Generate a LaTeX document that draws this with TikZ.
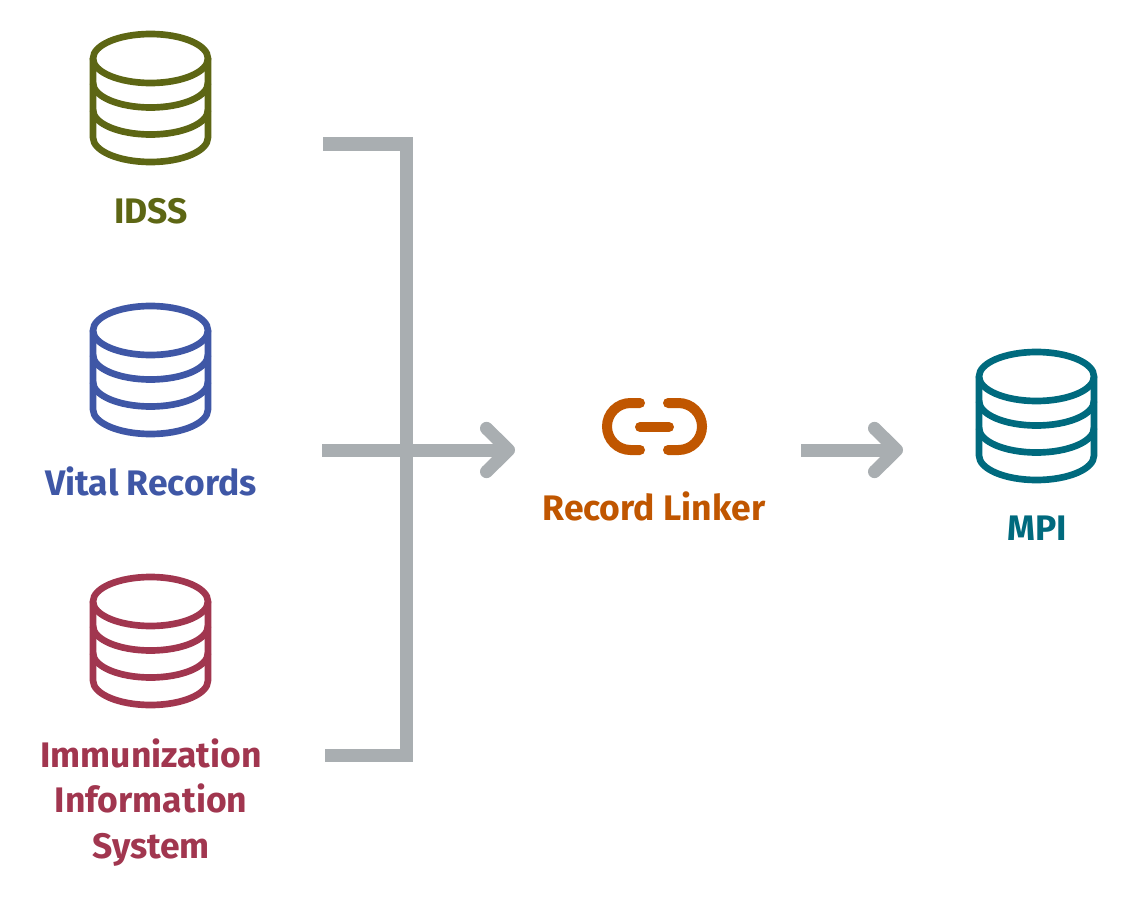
\documentclass[tikz,border=0pt]{standalone}
\usepackage{fontspec}
\setmainfont{Fira Sans}
\usetikzlibrary{arrows.meta}
\definecolor{idsscol}{HTML}{5D6614}
\definecolor{vitalcol}{HTML}{3F57A6}
\definecolor{immcol}{HTML}{A1364F}
\definecolor{linkcol}{HTML}{C05600}
\definecolor{mpicol}{HTML}{006A7E}
\definecolor{flowcol}{HTML}{A9AEB1}

\begin{document}
\begin{tikzpicture}[x=0.03cm, y=-0.03cm,
  dbicon/.pic = {
    \draw[line width=0.2cm] (0,58.5) ellipse [x radius=57.5, y radius=24.5];
    \draw[line width=0.2cm, line join=round] (-57.5,58.5) -- (-57.5,137.5) arc [start angle=180, end angle=360, x radius=57.5, y radius=-24.5] -- (57.5,58.5);
    \draw[line width=0.2cm] (-57.5,83) arc [start angle=180, end angle=360, x radius=57.5, y radius=-24.5];
    \draw[line width=0.2cm] (-57.5,110) arc [start angle=180, end angle=360, x radius=57.5, y radius=-24.5];
  },
  lbl/.style = {font=\fontsize{30.3}{38.6}\selectfont\bfseries, align=center, anchor=base},
  flow/.style = {draw=flowcol, line width=0.39cm},
  head/.style = {-{Straight Barb[length=0.66cm, width=1.3cm, line width=0.39cm, round]}}]
  \useasboundingbox (0,0) rectangle (1136,898);
  \pic[idsscol] at (150.5,0) {dbicon};
  \pic[vitalcol] at (150.5,272) {dbicon};
  \pic[immcol] at (150.5,543) {dbicon};
  \pic[mpicol] at (1036.5,318) {dbicon};
  \node[lbl, text=idsscol] (idss) at (151,223.5) {IDSS};
  \node[lbl, text=vitalcol] (vital) at (151,495.5) {Vital Records};
  \node[lbl, text=immcol] (imm) at (151,858) {Immunization\\Information\\System};
  \node[lbl, text=linkcol] (linker) at (654,520) {Record Linker};
  \node[lbl, text=mpicol] (mpi) at (1037,540.5) {MPI};
  % link icon
  \draw[linkcol, line width=0.3cm, line cap=round] (640,403) -- (630.5,403) arc [start angle=90, end angle=270, radius=23.5, y radius=-23.5] -- (640,450);
  \draw[linkcol, line width=0.3cm, line cap=round] (668,403) -- (678.5,403) arc [start angle=90, end angle=-90, radius=23.5, y radius=-23.5] -- (668,450);
  \draw[linkcol, line width=0.3cm, line cap=round] (640,427) -- (669,427);
  % connectors
  \coordinate (top) at (323,144);
  \coordinate (bot) at (325,755);
  \coordinate (corner) at (406,144);
  \coordinate (merge) at (322,450);
  \coordinate (linkin) at (515,450);
  \coordinate (linkout) at (801,450);
  \coordinate (mpiin) at (903,450);
  \draw[flow] (top) -- (corner) |- (bot);
  \draw[flow, head] (merge) -- (linkin);
  \draw[flow, head] (linkout) -- (mpiin);
\end{tikzpicture}
\end{document}
